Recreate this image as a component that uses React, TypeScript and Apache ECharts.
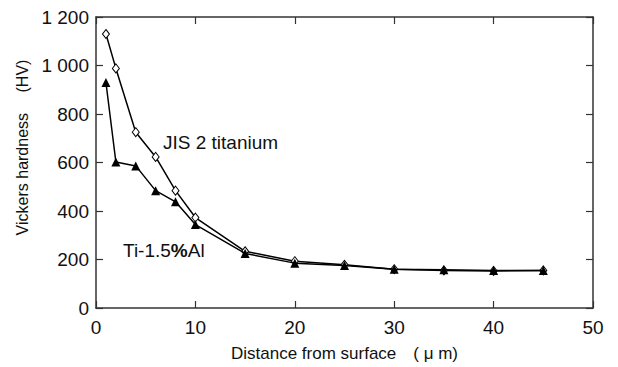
import React, { useEffect, useRef } from "react";
import * as echarts from "echarts";

const distances = [1, 2, 4, 6, 8, 10, 15, 20, 25, 30, 35, 40, 45];
const jisTitanium = [1130, 988, 725, 623, 484, 373, 234, 193, 178, 160, 155, 153, 155];
const tiAl = [930, 602, 586, 484, 438, 344, 225, 185, 175, 160, 158, 155, 155];
const xTicks = [0, 10, 20, 30, 40, 50];
const yTicks = [0, 200, 400, 600, 800, 1000, 1200];

const FONT = "Liberation Sans, Arial, sans-serif";
const AX = "#333";

function fmtY(v: number): string {
  if (v >= 1000) {
    return Math.floor(v / 1000) + " " + String(v % 1000).padStart(3, "0");
  }
  return String(v);
}

export default function App() {
  const ref = useRef<HTMLDivElement>(null);
  useEffect(() => {
    if (!ref.current) return;
    const chart = echarts.init(ref.current, null, { renderer: "svg" });
    const xMin = xTicks[0];
    const xMax = xTicks[xTicks.length - 1];
    const yMin = yTicks[0];
    const yMax = yTicks[yTicks.length - 1];
    const axisCommon = {
      type: "value" as const,
      axisLine: { show: true, onZero: false, lineStyle: { color: AX, width: 1.5 } },
      axisTick: { show: true, inside: true, length: 7, lineStyle: { color: AX, width: 1.2 } },
      splitLine: { show: false },
    };
    chart.setOption({
      animation: false,
      backgroundColor: "#fff",
      grid: { left: 96, right: 25, top: 17, bottom: 57 },
      xAxis: [
        {
          ...axisCommon,
          position: "bottom",
          min: xMin,
          max: xMax,
          interval: 10,
          axisLabel: { color: "#111", fontSize: 19, fontFamily: FONT, margin: 10 },
          name: "Distance from surface\u3000( \u03bc m)",
          nameLocation: "middle",
          nameGap: 37,
          nameTextStyle: { color: "#111", fontSize: 17, fontFamily: FONT },
        },
        {
          ...axisCommon,
          position: "top",
          min: xMin,
          max: xMax,
          interval: 10,
          axisLabel: { show: false },
        },
      ],
      yAxis: [
        {
          ...axisCommon,
          position: "left",
          min: yMin,
          max: yMax,
          interval: 200,
          axisLabel: { color: "#111", fontSize: 19, fontFamily: FONT, margin: 7, formatter: fmtY },
          name: "Vickers hardness \u3000(HV)",
          nameLocation: "middle",
          nameGap: 64,
          nameTextStyle: { color: "#111", fontSize: 16, fontFamily: FONT, padding: [0, 0, 0, 30] },
        },
        {
          ...axisCommon,
          position: "right",
          min: yMin,
          max: yMax,
          interval: 200,
          axisLabel: { show: false },
        },
      ],
      series: [
        {
          name: "JIS 2 titanium",
          type: "line",
          data: distances.map((d, i) => [d, jisTitanium[i]]),
          symbol: "diamond",
          symbolSize: [7, 9],
          lineStyle: { color: "#000", width: 1.5 },
          itemStyle: { color: "#fff", borderColor: "#000", borderWidth: 1 },
          z: 2,
        },
        {
          name: "Ti-1.5%Al",
          type: "line",
          data: distances.map((d, i) => [d, tiAl[i]]),
          symbol: "triangle",
          symbolSize: 9,
          lineStyle: { color: "#000", width: 1.5 },
          itemStyle: { color: "#000", borderColor: "#000", borderWidth: 0 },
          z: 3,
        },
      ],
      graphic: [
        {
          type: "text",
          left: 163,
          top: 133,
          style: { text: "JIS 2 titanium", fontSize: 19, fontFamily: FONT, fill: "#111" },
        },
        {
          type: "text",
          left: 123,
          top: 241,
          style: {
            text: "Ti-1.5{b|%}Al",
            fontSize: 19,
            fontFamily: FONT,
            fill: "#111",
            rich: { b: { fontSize: 19, fontFamily: FONT, fontWeight: "bold", fill: "#111" } },
          },
        },
      ],
    });
    return () => chart.dispose();
  }, []);
  return (
    <div
      ref={ref}
      style={{ position: "fixed", left: 0, top: 0, width: 618, height: 367 }}
    />
  );
}
